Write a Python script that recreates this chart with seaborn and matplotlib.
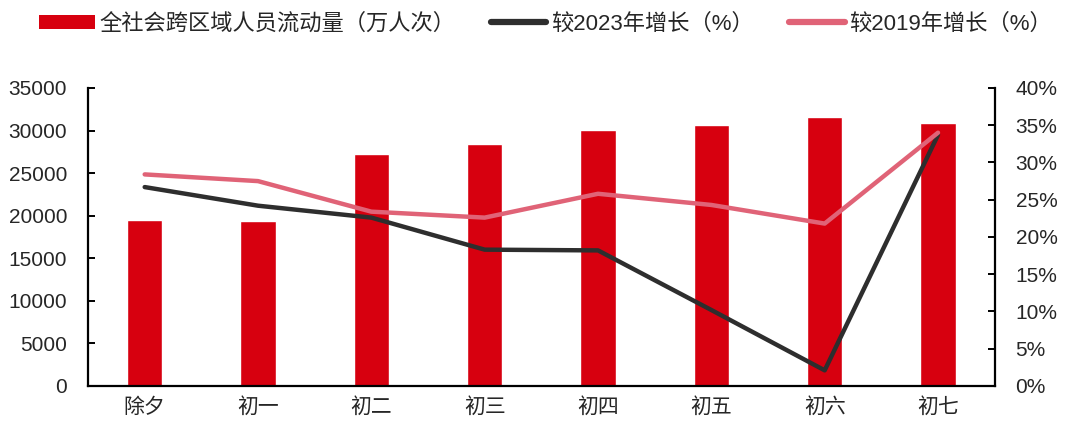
import numpy as np
import pandas as pd
import matplotlib
matplotlib.use("Agg")
import matplotlib.pyplot as plt
from matplotlib.patches import Patch
from matplotlib.lines import Line2D
from matplotlib.ticker import FuncFormatter
import seaborn as sns

categories = ["除夕", "初一", "初二", "初三", "初四", "初五", "初六", "初七"]
flow = [19500, 19400, 27300, 28400, 30100, 30650, 31550, 30850]
vs2023 = [26.7, 24.2, 22.6, 18.3, 18.2, 10.2, 2.1, 33.7]
vs2019 = [28.4, 27.5, 23.4, 22.6, 25.8, 24.3, 21.8, 34.0]

label_bar = "全社会跨区域人员流动量（万人次）"
label_23 = "较2023年增长（%）"
label_19 = "较2019年增长（%）"

sns.set_theme(style="white")
plt.rcParams['font.family'] = ['Liberation Sans', 'Noto Sans CJK SC', 'DejaVu Sans']

RED = "#D7000F"
BLACK = "#2E2E2E"
PINK = "#E06377"

df = pd.DataFrame({"cat": categories, "flow": flow, "pos": np.arange(len(categories)),
                   "v23": vs2023, "v19": vs2019})

fig = plt.figure(figsize=(10.8, 4.36), dpi=100)
ax = fig.add_axes([0.0815, 0.1147, 0.8395, 0.6835])
sns.barplot(data=df, x="cat", y="flow", color=RED, saturation=1, width=0.31, ax=ax)
ax.set_ylim(0, 35000)
ax.set_yticks(np.arange(0, 35001, 5000))
ax.set_xlim(-0.5, len(categories) - 0.5)
ax.set_xlabel("")
ax.set_ylabel("")

ax2 = ax.twinx()
sns.lineplot(data=df, x="pos", y="v23", color=BLACK, linewidth=3.2, ax=ax2)
sns.lineplot(data=df, x="pos", y="v19", color=PINK, linewidth=3.2, ax=ax2)
ax2.set_ylim(0, 40)
ax2.set_yticks(np.arange(0, 41, 5))
ax2.yaxis.set_major_formatter(FuncFormatter(lambda v, p: f"{int(v)}%"))
ax2.set_xlim(-0.5, len(categories) - 0.5)
ax2.set_ylabel("")
ax2.set_xlabel("")

for a in (ax, ax2):
    a.spines["top"].set_visible(False)
    for s in a.spines.values():
        s.set_color("black")
        s.set_linewidth(1.6)
ax.spines["right"].set_visible(False)
ax2.spines["left"].set_visible(False)
ax2.spines["bottom"].set_visible(False)

ax.tick_params(axis="y", direction="in", length=5, width=1.4, color="black", labelsize=15, pad=15)
ax.tick_params(axis="x", length=0, labelsize=15, pad=8)
ax2.tick_params(axis="y", direction="in", length=5, width=1.4, color="black", labelsize=15, pad=15)
ax.set_xticks(range(len(categories)))
ax.set_xticklabels(categories)

handles = [Patch(facecolor=RED, edgecolor="none"),
           Line2D([0], [0], color=BLACK, linewidth=4.5),
           Line2D([0], [0], color=PINK, linewidth=4.5)]
fig.legend(handles, [label_bar, label_23, label_19], loc="center", bbox_to_anchor=(0.505, 0.945),
           ncol=3, frameon=False, fontsize=16, handlelength=2.5, handletextpad=0.2,
           columnspacing=1.6, handleheight=0.6)

fig.savefig("out.png", dpi=100)
